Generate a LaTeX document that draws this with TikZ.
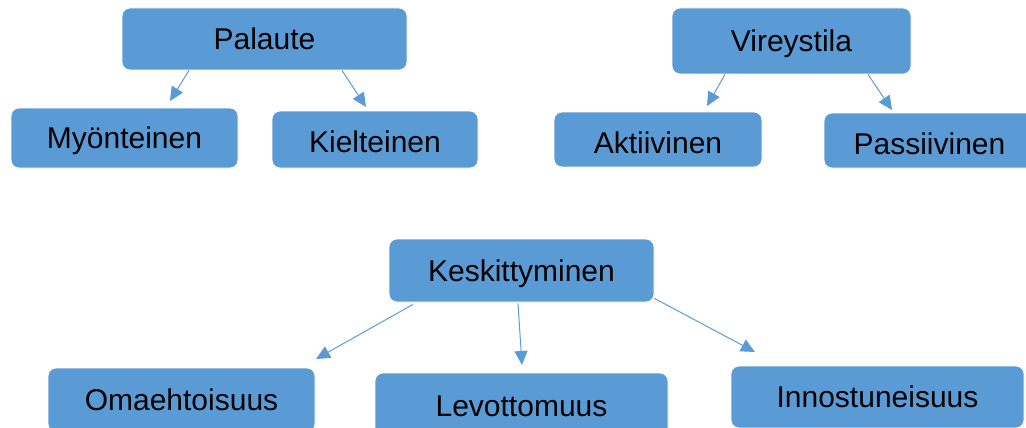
\documentclass[tikz,border=0pt]{standalone}
\usepackage{fontspec}
\setmainfont{Liberation Sans}
\usetikzlibrary{arrows.meta}
\definecolor{boxblue}{HTML}{5B9BD5}
\begin{document}
\begin{tikzpicture}[x=1pt,y=-1pt,
  box/.style={rectangle, rounded corners=8pt, fill=boxblue, draw=white, line width=0.8pt,
    inner sep=0pt, text height=21.5pt, text depth=0pt, font=\fontsize{30}{35}\selectfont, text=black},
  link/.style={draw=boxblue, line width=1pt, -{Triangle[length=14pt,width=13pt]}}]
\useasboundingbox (0,0) rectangle (1026,428);
% top left group
\node[box, minimum width=285pt, minimum height=62pt] (pal) at (264.5,39) {Palaute};
\node[box, minimum width=227pt, minimum height=60pt] (myo) at (124.5,138) {Myönteinen};
\node[box, minimum width=206pt, minimum height=57pt] (kie) at (375,139.5) {\raisebox{-2pt}{Kielteinen}};
% top right group
\node[box, minimum width=239pt, minimum height=66pt] (vir) at (791.5,41) {Vireystila};
\node[box, minimum width=208pt, minimum height=55pt] (akt) at (658,139.5) {\raisebox{-3pt}{Aktiivinen}};
\node[box, minimum width=211pt, minimum height=55pt] (pas) at (929.5,140.5) {\raisebox{-3pt}{Passiivinen}};
% bottom group
\node[box, minimum width=265pt, minimum height=63pt] (kes) at (521.5,270.5) {Keskittyminen};
\node[box, minimum width=267pt, minimum height=64pt] (oma) at (181.5,400) {Omaehtoisuus};
\node[box, minimum width=293pt, minimum height=66pt] (lev) at (521.5,406) {Levottomuus};
\node[box, minimum width=293pt, minimum height=62pt] (inn) at (877.5,397) {Innostuneisuus};
% arrow tips (free ends)
\coordinate (t1) at (170,101);
\coordinate (t2) at (366,107);
\coordinate (t3) at (707,106);
\coordinate (t4) at (892,110);
\coordinate (t5) at (316,359);
\coordinate (t6) at (522,365);
\coordinate (t7) at (755,352);
% connectors
\draw[link] ([xshift=-75.5pt]pal.south) -- (t1);
\draw[link] ([xshift=77.5pt]pal.south) -- (t2);
\draw[link] ([xshift=-66.5pt]vir.south) -- (t3);
\draw[link] ([xshift=76.5pt]vir.south) -- (t4);
\draw[link] ([xshift=-108.5pt,yshift=-2pt]kes.south) -- (t5);
\draw[link] ([xshift=-3.5pt,yshift=-1pt]kes.south) -- (t6);
\draw[link] ([yshift=4pt]kes.south east) -- (t7);
\end{tikzpicture}
\end{document}
